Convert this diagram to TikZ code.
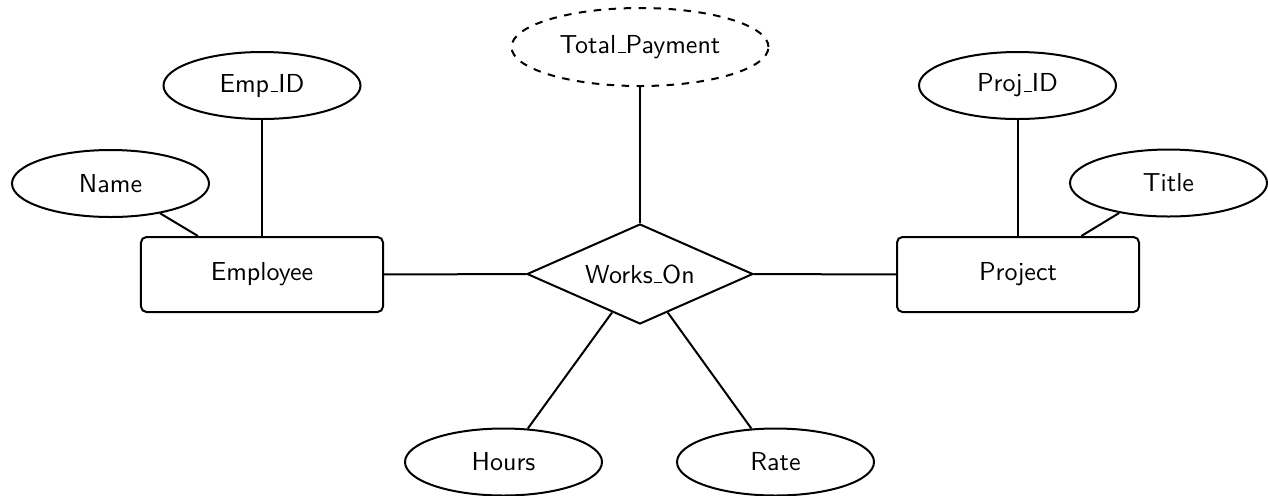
\documentclass[tikz,border=0pt]{standalone}
\usetikzlibrary{shapes.geometric}
\newcommand\usc{\leavevmode\kern.06em\vbox{\hrule width.3em height .45pt}}
\begin{document}
\begin{tikzpicture}[x=0.4pt,y=-0.4pt,
  every node/.style={font=\sffamily\fontsize{10.4}{12.5}\selectfont, line width=0.8pt},
  entity/.style={draw, rectangle, rounded corners=2.2pt, minimum width=96.8pt, minimum height=30pt, inner sep=0pt},
  attr/.style={draw, ellipse, minimum width=78.8pt, minimum height=26.8pt, inner sep=0pt},
  derived/.style={attr, dashed, minimum width=102.8pt, minimum height=31.2pt},
  rel/.style={draw, diamond, aspect=2.26, minimum width=90.4pt, minimum height=40pt, inner sep=0pt},
  conn/.style={line width=0.8pt}]
\useasboundingbox (0,0) rectangle (1268,495);
\node[entity] (emp) at (262,274.5) {Employee};
\node[entity] (proj) at (1018,274.5) {Project};
\node[rel] (works) at (640,274) {Works\usc On};
\node[attr] (empid) at (262,85.5) {Emp\usc ID};
\node[attr] (name) at (110.5,183.5) {Name};
\node[attr] (projid) at (1017.5,85.5) {Proj\usc ID};
\node[attr] (title) at (1168.5,183) {Title};
\node[derived] (total) at (640,47) {Total\usc Payment};
\node[attr] (hours) at (503.5,462) {Hours};
\node[attr] (rate) at (775.5,462) {Rate};
\draw[conn] (empid) -- (emp);
\draw[conn] (name) -- (emp);
\draw[conn] (projid.south) -- (projid.south |- proj.north);
\draw[conn] (title) -- (proj);
\draw[conn] (emp) -- (works);
\draw[conn] (works) -- (proj);
\draw[conn] (total) -- (works);
\draw[conn] (works) -- (hours);
\draw[conn] (works) -- (rate);
\end{tikzpicture}
\end{document}
